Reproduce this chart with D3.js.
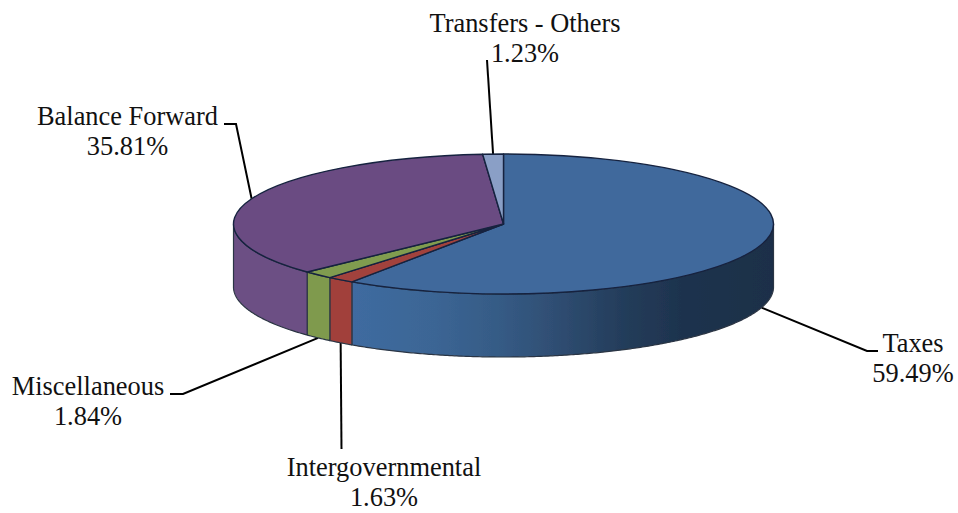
<!DOCTYPE html>
<html>
<head>
<meta charset="utf-8">
<script src="https://cdn.jsdelivr.net/npm/d3@7"></script>
<style>
	html, body { margin: 0; padding: 0; background: #fff; }
	svg { display: block; }
	text { font-family: "Liberation Serif", serif; font-size: 26.4px; fill: #111; text-anchor: middle; }
</style>
</head>
<body>
<svg id="chart" width="958" height="513"></svg>
<script>
// data, clockwise from 12 o'clock
var categories = ['Taxes', 'Intergovernmental', 'Miscellaneous', 'Balance Forward', 'Transfers - Others'];
var shares = [59.49, 1.63, 1.84, 35.81, 1.23];
var percentLabels = ['59.49%', '1.63%', '1.84%', '35.81%', '1.23%'];

// colours per slice
var topColors = ['#41699c', '#a2433d', '#809c4f', '#6a4c82', '#8a9fc6'];
var sideColors = ['url(#taxesSide)', '#a1403b', '#7f9a4d', '#6c4f84', '#8a9fc6'];

// layout of the disc
var width = 958,
	height = 513,
	cx = 503.5,
	cy = 224,
	rx = 270,
	ry = 70,
	depth = 63;

// label centre + first baseline, and leader elbow with the end near the text
var labelLayout = [
	{x: 913, y: 351.8, elbow: [867, 351], end: [878, 351]},
	{x: 384, y: 475.8, elbow: [341.5, 449], end: [341.5, 449]},
	{x: 88, y: 394.8, elbow: [183, 394], end: [170, 394]},
	{x: 127.5, y: 124.8, elbow: [236, 124], end: [224, 124]},
	{x: 525, y: 31.8, elbow: [487, 60], end: [487, 60]}
];
var lineGap = 30.4;

var svg = d3.select('#chart');

// the page is flattened a bit blurry in the original
var defs = svg.append('defs');
defs.append('filter').attr('id', 'soft')
	.attr('x', '-5%').attr('y', '-5%').attr('width', '110%').attr('height', '110%')
	.append('feGaussianBlur').attr('stdDeviation', 0.5);

// pie angles: 0 at the top, running clockwise
var pie = d3.pie().sort(null).value(function(d) { return d; });
var slices = pie(shares);

// scales from the unit circle to the tilted ellipse
var xScale = d3.scaleLinear().domain([-1, 1]).range([cx - rx, cx + rx]);
var yScale = d3.scaleLinear().domain([-1, 1]).range([cy - ry, cy + ry]);

function px(a) { return xScale(Math.sin(a)); }
function py(a) { return yScale(-Math.cos(a)); }

// gradient on the front wall of the big slice
var grad = defs.append('linearGradient').attr('id', 'taxesSide')
	.attr('gradientUnits', 'userSpaceOnUse')
	.attr('x1', px(slices[0].endAngle)).attr('y1', 0)
	.attr('x2', px(Math.PI / 2)).attr('y2', 0);
[[0, '#3f6ba0'], [0.2, '#3b6594'], [0.36, '#355a84'], [0.5, '#2e4c70'], [0.64, '#243d5b'], [0.78, '#1e334e'], [1, '#1d2f48']]
	.forEach(function(s) {
		grad.append('stop').attr('offset', s[0]).attr('stop-color', s[1]);
	});

var chart = svg.append('g').attr('filter', 'url(#soft)');

// leaders go under the pie
var leader = d3.line();
slices.forEach(function(s, i) {
	var mid = (s.startAngle + s.endAngle) / 2,
		front = Math.cos(mid) < 0 && Math.abs(Math.sin(mid)) < 0.97,
		start = [px(mid), py(mid) + (front ? depth : 0)],
		l = labelLayout[i];
	chart.append('path')
		.attr('d', leader([start, l.elbow, l.end]))
		.attr('fill', 'none')
		.attr('stroke', '#000')
		.attr('stroke-width', 2);
});

// front wall: only the part of each slice facing the viewer
var wall = d3.area()
	.x(function(a) { return px(a); })
	.y0(function(a) { return py(a); })
	.y1(function(a) { return py(a) + depth; });

slices.forEach(function(s, i) {
	var a0 = Math.max(s.startAngle, Math.PI / 2),
		a1 = Math.min(s.endAngle, Math.PI * 1.5);
	if (a1 <= a0) return;
	var steps = d3.range(a0, a1, Math.PI / 360).concat([a1]);
	chart.append('path')
		.attr('d', wall(steps))
		.attr('fill', sideColors[i])
		.attr('stroke', '#2c3644')
		.attr('stroke-width', 1.2)
		.attr('stroke-linejoin', 'round');
});

// top face, drawn with d3.arc and squashed to the ellipse
var arc = d3.arc().innerRadius(0).outerRadius(rx);
chart.append('g')
	.attr('transform', 'translate(' + cx + ',' + cy + ') scale(1,' + (ry / rx) + ')')
	.selectAll('path')
	.data(slices)
	.enter().append('path')
	.attr('d', arc)
	.attr('fill', function(d, i) { return topColors[i]; })
	.attr('stroke', '#16233f')
	.attr('stroke-width', 1.4)
	.attr('stroke-linejoin', 'round')
	.attr('vector-effect', 'non-scaling-stroke');

// labels
var labels = svg.append('g').selectAll('text')
	.data(categories)
	.enter().append('text')
	.attr('x', function(d, i) { return labelLayout[i].x; })
	.attr('y', function(d, i) { return labelLayout[i].y; });

labels.append('tspan').text(function(d) { return d; });
labels.append('tspan')
	.attr('x', function(d, i) { return labelLayout[i].x; })
	.attr('dy', lineGap)
	.text(function(d, i) { return percentLabels[i]; });
</script>
</body>
</html>
